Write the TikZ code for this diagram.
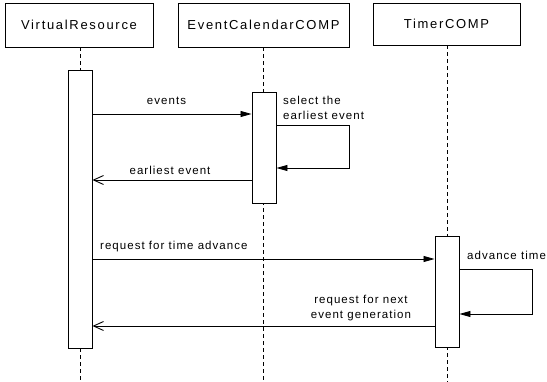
\documentclass[tikz,border=0pt]{standalone}
\usepackage{fontspec}
\setmainfont{Liberation Sans}
\newfontfamily\objfont[LetterSpace=13]{Liberation Sans}
\newfontfamily\msgfont[LetterSpace=9]{Liberation Sans}
\usetikzlibrary{arrows.meta}
\begin{document}
\begin{tikzpicture}[x=1pt,y=-1pt,
  obj/.style={draw,line width=0.9pt,fill=white,inner sep=0pt,
    font=\objfont\fontsize{13}{15}\selectfont},
  act/.style={draw,line width=0.9pt,fill=white,minimum width=24pt,inner sep=0pt},
  life/.style={dashed,dash pattern=on 4pt off 3pt,line width=0.8pt},
  call/.style={line width=0.8pt,-{Triangle[length=11pt,width=6pt]}},
  reply/.style={line width=0.8pt,-{Straight Barb[length=10pt,width=9pt,line width=0.9pt]}},
  lbl/.style={inner sep=0pt,font=\msgfont\fontsize{11.5}{15}\selectfont}]
\useasboundingbox (0,0) rectangle (547,382);

% objects
\node[obj,minimum width=148pt,minimum height=44pt] (vr) at (79,25) {VirtualResource};
\node[obj,minimum width=171pt,minimum height=44pt] (ec) at (263.5,25) {EventCalendarCOMP};
\node[obj,minimum width=147pt,minimum height=42pt] (tm) at (446.5,24) {TimerCOMP};

% lifelines
\coordinate (vrend) at (80,382);
\coordinate (ecend) at (263,382);
\coordinate (tmend) at (447,382);
\draw[life] (vr.south -| vrend) -- (vrend);
\draw[life] (ec.south -| ecend) -- (ecend);
\draw[life] (tm.south -| tmend) -- (tmend);

% activations
\node[act,minimum height=278pt] (vra) at (80,209) {};
\node[act,minimum height=111pt] (eca) at (264,147.5) {};
\node[act,minimum height=111pt] (tma) at (447,291.5) {};

% message rows
\coordinate (r1) at (0,114);
\coordinate (r2a) at (349,125);
\coordinate (r2b) at (349,168);
\coordinate (r3) at (0,180);
\coordinate (r4) at (0,259);
\coordinate (r5a) at (532,269);
\coordinate (r5b) at (532,314);
\coordinate (r6) at (0,326);

\draw[call] (vra.east |- r1) -- (eca.west |- r1);
\draw[call] (eca.east |- r2a) -- (r2a) -- (r2b) -- (eca.east |- r2b);
\draw[reply] (eca.west |- r3) -- (vra.east |- r3);
\draw[call] (vra.east |- r4) -- (tma.west |- r4);
\draw[call] (tma.east |- r5a) -- (r5a) -- (r5b) -- (tma.east |- r5b);
\draw[reply] (tma.west |- r6) -- (vra.east |- r6);

% labels
\node[lbl] (l1) at (166.5,101) {events};
\node[lbl,anchor=west,align=left] (l2) at (283,107.5) {select the\\earliest event};
\node[lbl] (l3) at (170,170) {earliest event};
\node[lbl,anchor=west] (l4) at (100,247) {request for time advance};
\node[lbl,anchor=west] (l5) at (467,255) {advance time};
\node[lbl,align=center] (l6) at (361,308.5) {request for next\\event generation};
\end{tikzpicture}
\end{document}
